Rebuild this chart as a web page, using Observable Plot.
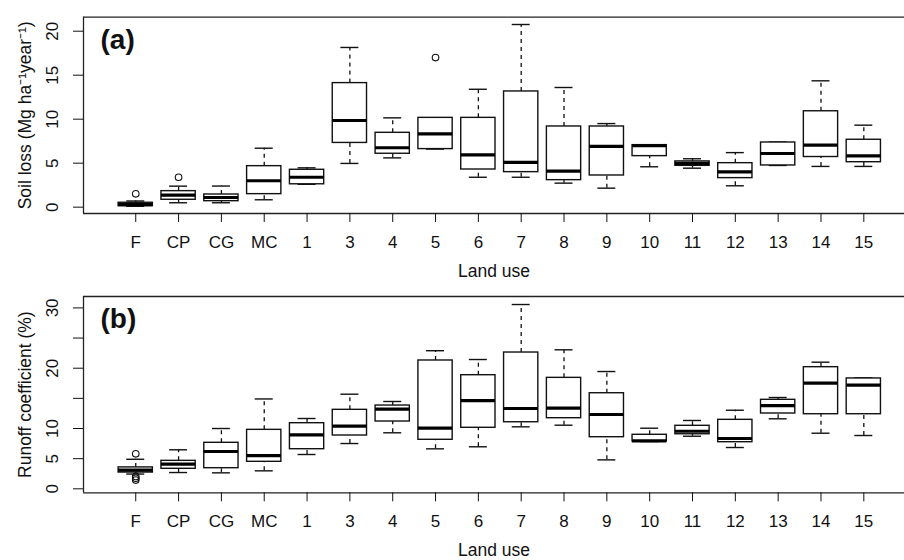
<!DOCTYPE html>
<html><head><meta charset="utf-8">
<script src="https://cdn.jsdelivr.net/npm/d3@7"></script>
<script src="https://cdn.jsdelivr.net/npm/@observablehq/plot@0.6"></script>
<style>
body{margin:0;background:#fff;}
#chart{width:904px;height:560px;overflow:hidden;}
#chart svg{display:block;}
</style>
</head><body><div id="chart"></div>
<script>
const categories = ["F","CP","CG","MC","1","3","4","5","6","7","8","9","10","11","12","13","14","15"];

// Panel (a): soil loss (Mg ha-1 year-1)
const soilLow  = [0.10, 0.50, 0.50, 0.84, 2.60, 4.97, 5.60, 6.60, 3.40, 3.40, 2.73, 2.16, 4.59, 4.43, 2.43, 4.74, 4.63, 4.63];
const soilQ1   = [0.12, 0.84, 0.68, 1.48, 2.60, 7.30, 6.07, 6.60, 4.28, 3.98, 3.07, 3.60, 5.80, 4.70, 3.30, 4.74, 5.70, 5.11];
const soilMed  = [0.30, 1.36, 1.10, 3.00, 3.40, 9.85, 6.75, 8.34, 5.95, 5.08, 4.10, 6.90, 6.98, 4.97, 4.02, 6.10, 7.05, 5.84];
const soilQ3   = [0.50, 1.82, 1.44, 4.66, 4.25, 14.10, 8.45, 10.15, 10.15, 13.15, 9.17, 9.17, 7.05, 5.20, 5.00, 7.35, 10.90, 7.66];
const soilHigh = [0.70, 2.39, 2.40, 6.70, 4.47, 18.15, 10.15, 10.15, 13.40, 20.76, 13.60, 9.50, 7.05, 5.50, 6.20, 7.40, 14.36, 9.32];
const soilOutCat = ["F", "CP", "5"];
const soilOutVal = [1.52, 3.40, 17.0];
const soilTicks = [0, 5, 10, 15, 20];
const soilTickLabels = [0, 5, 10, 15, 20];
const soilLimits = [-0.72, 21.59];

// Panel (b): runoff coefficient (%)
const runLow  = [2.45, 2.70, 2.65, 2.98, 5.69, 7.51, 9.29, 6.63, 6.97, 10.28, 10.55, 4.80, 7.84, 8.72, 6.85, 11.61, 9.22, 8.84];
const runQ1   = [2.70, 3.32, 3.42, 4.48, 6.57, 8.84, 11.16, 8.13, 10.12, 11.04, 11.71, 8.56, 7.84, 9.05, 7.73, 12.49, 12.37, 12.37];
const runMed  = [3.10, 4.08, 6.19, 5.52, 8.96, 10.38, 13.20, 10.05, 14.64, 13.32, 13.37, 12.32, 7.96, 9.55, 8.34, 13.81, 17.51, 17.18];
const runQ3   = [3.55, 4.64, 7.63, 9.78, 10.88, 13.10, 13.81, 21.28, 18.84, 22.60, 18.40, 15.85, 8.96, 10.45, 11.44, 14.76, 20.17, 18.30];
const runHigh = [4.90, 6.47, 10.00, 14.90, 11.66, 15.69, 14.48, 22.90, 21.44, 30.56, 23.05, 19.45, 10.05, 11.33, 13.03, 15.14, 21.00, 18.40];
const runOutCat = ["F", "F", "F", "F"];
const runOutVal = [5.80, 2.05, 1.75, 1.45];
const runTicks = [0, 5, 10, 15, 20, 25, 30];
const runTickLabels = [0, 5, 10, 20, 30];
const runLimits = [-0.66, 31.89];

const xLimits = [-1.22, 17.95];
const FONT = "'Liberation Sans', Arial, Helvetica, sans-serif";

function panel(o) {
  const data = categories.map((c, i) => ({i, c, low: o.low[i], q1: o.q1[i], med: o.med[i], q3: o.q3[i], high: o.high[i]}));
  const outs = o.outCat.map((c, k) => ({i: categories.indexOf(c), v: o.outVal[k]}));
  return Plot.plot({
    width: 904,
    height: 280,
    marginLeft: 83,
    marginRight: 0,
    marginTop: o.marginTop,
    marginBottom: o.marginBottom,
    style: {fontFamily: FONT, fontSize: "17px", background: "#fff", color: "#111"},
    x: {type: "linear", domain: xLimits},
    y: {type: "linear", domain: o.limits},
    marks: [
      Plot.ruleX(data, {x: "i", y1: "q3", y2: "high", stroke: "#111", strokeWidth: 1.3, strokeDasharray: "4,4"}),
      Plot.ruleX(data, {x: "i", y1: "low", y2: "q1", stroke: "#111", strokeWidth: 1.3, strokeDasharray: "4,4"}),
      Plot.ruleY(data, {y: "high", x1: d => d.i - 0.21, x2: d => d.i + 0.21, stroke: "#111", strokeWidth: 1.4}),
      Plot.ruleY(data, {y: "low", x1: d => d.i - 0.21, x2: d => d.i + 0.21, stroke: "#111", strokeWidth: 1.4}),
      Plot.rect(data, {x1: d => d.i - 0.4, x2: d => d.i + 0.4, y1: "q1", y2: "q3", fill: "#fff", stroke: "#111", strokeWidth: 1.4}),
      Plot.ruleY(data, {y: "med", x1: d => d.i - 0.4, x2: d => d.i + 0.4, stroke: "#000", strokeWidth: 3.2}),
      Plot.dot(outs, {x: "i", y: "v", r: 3.3, stroke: "#111", fill: "none", strokeWidth: 1.1}),
      Plot.ruleX([xLimits[0]], {stroke: "#222", strokeWidth: 1.3}),
      Plot.ruleY(o.limits, {stroke: "#222", strokeWidth: 1.3}),
      Plot.axisX({ticks: d3.range(categories.length), tickFormat: i => categories[i], tickSize: 9, tickPadding: 13, label: null, stroke: "#111", fill: "#111"}),
      Plot.axisY({ticks: o.ticks, tickFormat: () => "", tickSize: 10, label: null, stroke: "#111"}),
      Plot.text(o.tickLabels, {y: d => d, text: d => String(d), frameAnchor: "left", dx: -31, rotate: -90, textAnchor: "middle", lineAnchor: "middle", fontSize: 17, fill: "#111"}),
      Plot.text([o.tag], {frameAnchor: "top-left", dx: 17, dy: 23, textAnchor: "start", lineAnchor: "middle", fontSize: 28, fontWeight: "bold", fill: "#111"}),
      Plot.text(["Land use"], {frameAnchor: "bottom", dy: 58, lineAnchor: "middle", fontSize: 17.5, fill: "#111"}),
      Plot.text([o.yTitle], {frameAnchor: "left", dx: -58, rotate: -90, textAnchor: "middle", lineAnchor: "middle", fontSize: 17.5, fill: "#111"})
    ]
  });
}

const chart = document.getElementById("chart");
chart.append(panel({
  low: soilLow, q1: soilQ1, med: soilMed, q3: soilQ3, high: soilHigh,
  outCat: soilOutCat, outVal: soilOutVal, ticks: soilTicks, tickLabels: soilTickLabels,
  limits: soilLimits, tag: "(a)", yTitle: "Soil loss (Mg ha\u207B\u00B9year\u207B\u00B9)",
  marginTop: 16.7, marginBottom: 67
}));
chart.append(panel({
  low: runLow, q1: runQ1, med: runMed, q3: runQ3, high: runHigh,
  outCat: runOutCat, outVal: runOutVal, ticks: runTicks, tickLabels: runTickLabels,
  limits: runLimits, tag: "(b)", yTitle: "Runoff coefficient (%)",
  marginTop: 16, marginBottom: 67.7
}));
</script>
</body></html>
